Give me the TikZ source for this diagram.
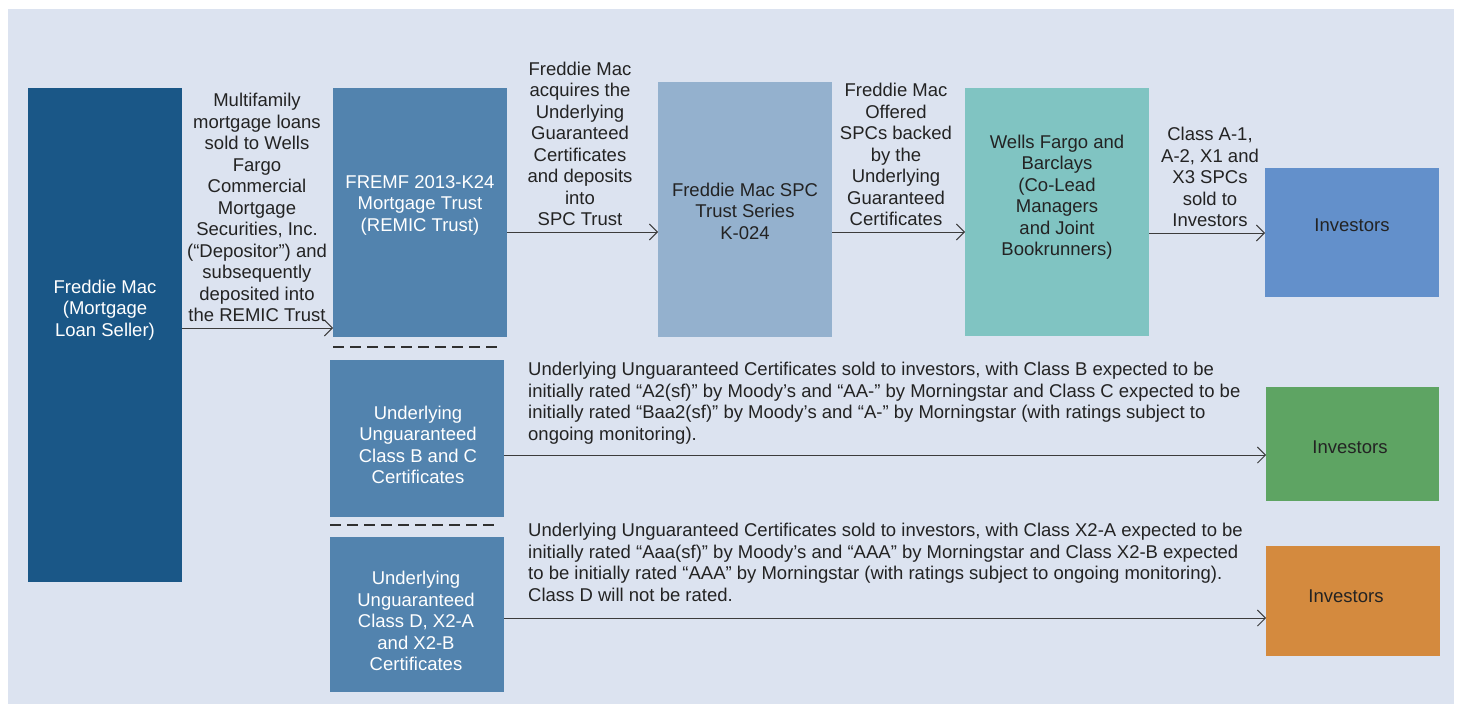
\documentclass[tikz,border=0pt]{standalone}
\usepackage{fontspec}
\setmainfont{Liberation Sans}
\usetikzlibrary{arrows.meta}
\definecolor{bgc}{RGB}{220,227,240}
\definecolor{darkblue}{RGB}{26,87,135}
\definecolor{midblue}{RGB}{82,131,174}
\definecolor{lightblue}{RGB}{148,177,206}
\definecolor{teal}{RGB}{128,196,194}
\definecolor{invblue}{RGB}{99,144,203}
\definecolor{invgreen}{RGB}{94,164,99}
\definecolor{invorange}{RGB}{212,138,62}
\definecolor{txt}{RGB}{35,35,35}
\definecolor{linec}{RGB}{60,60,60}
\tikzset{
  box/.style={inner sep=0pt, outer sep=0pt, draw=none},
  boxtext/.style={align=center, font=\fontsize{18.5}{21.5}\selectfont, inner sep=0pt},
  lbl/.style={align=center, font=\fontsize{18.5}{21.5}\selectfont, text=txt, inner sep=0pt},
  lbll/.style={align=left, font=\fontsize{18.5}{21.5}\selectfont, text=txt, inner sep=0pt},
  conn/.style={draw=linec, line width=0.9pt, -{Straight Barb[length=8pt,width=16pt,line width=0.9pt]}},
  sep/.style={draw=linec!80!black, line width=2.6pt, dash pattern=on 11pt off 6pt}
}
\begin{document}
\begin{tikzpicture}[x=1pt,y=-1pt]
\useasboundingbox (0,0) rectangle (1461,704);
\fill[white] (0,0) rectangle (1461,704);
\fill[bgc] (8,9) rectangle (1454,704);
% boxes
\node[box, fill=darkblue, minimum width=154pt, minimum height=494pt, anchor=north west] (seller) at (28,88) {};
\node[box, fill=midblue, minimum width=174pt, minimum height=249pt, anchor=north west] (remic) at (333,88) {};
\node[box, fill=lightblue, minimum width=174pt, minimum height=255pt, anchor=north west] (spc) at (658,82) {};
\node[box, fill=teal, minimum width=184pt, minimum height=248pt, anchor=north west] (wf) at (965,88) {};
\node[box, fill=invblue, minimum width=174pt, minimum height=129pt, anchor=north west] (inv1) at (1265,168) {};
\node[box, fill=midblue, minimum width=174pt, minimum height=157pt, anchor=north west] (bc) at (330,360) {};
\node[box, fill=midblue, minimum width=174pt, minimum height=155pt, anchor=north west] (dx) at (330,537) {};
\node[box, fill=invgreen, minimum width=173pt, minimum height=114pt, anchor=north west] (inv2) at (1266,387) {};
\node[box, fill=invorange, minimum width=174pt, minimum height=110pt, anchor=north west] (inv3) at (1266,546) {};
% box texts
\node[boxtext, text=white] (tseller) at (105,310) {Freddie Mac\\(Mortgage\\Loan Seller)};
\node[boxtext, text=white] (tremic) at (420,205) {FREMF 2013-K24\\Mortgage Trust\\(REMIC Trust)};
\node[boxtext, text=txt] (tspc) at (745,211) {Freddie Mac SPC\\Trust Series\\K-024};
\node[boxtext, text=txt] (twf) at (1057,197) {Wells Fargo and\\Barclays\\(Co-Lead\\Managers\\and Joint\\Bookrunners)};
\node[boxtext, text=txt] (tinv1) at (1352,225) {Investors};
\node[boxtext, text=white] (tbc) at (418,445) {Underlying\\Unguaranteed\\Class B and C\\Certificates};
\node[boxtext, text=white] (tdx) at (416,621) {Underlying\\Unguaranteed\\Class D, X2-A\\and X2-B\\Certificates};
\node[boxtext, text=txt] (tinv2) at (1350,447) {Investors};
\node[boxtext, text=txt] (tinv3) at (1346,596) {Investors};
% separators
\coordinate (s1a) at (333,347); \coordinate (s1b) at (502,347);
\coordinate (s2a) at (330,525); \coordinate (s2b) at (499,525);
\draw[sep] (s1a) -- (s1b);
\draw[sep] (s2a) -- (s2b);
% connectors
\draw[conn] (seller.east |- 0,328) -- (remic.west |- 0,328);
\draw[conn] (remic.east |- 0,232) -- (spc.west |- 0,232);
\draw[conn] (spc.east |- 0,232) -- (wf.west |- 0,232);
\draw[conn] (wf.east |- 0,233) -- (inv1.west |- 0,233);
\draw[conn] (bc.east |- 0,455) -- (inv2.west |- 0,455);
\draw[conn] (dx.east |- 0,618) -- (inv3.west |- 0,618);
% labels
\node[lbl, anchor=south] (l1) at (257,322) {Multifamily\\mortgage loans\\sold to Wells\\Fargo\\Commercial\\Mortgage\\Securities, Inc.\\(``Depositor'') and\\subsequently\\deposited into\\the REMIC Trust};
\node[lbl, anchor=south] (l2) at (580,226) {Freddie Mac\\acquires the\\Underlying\\Guaranteed\\Certificates\\and deposits\\into\\SPC Trust};
\node[lbl, anchor=south] (l3) at (896,226) {Freddie Mac\\Offered\\SPCs backed\\by the\\Underlying\\Guaranteed\\Certificates};
\node[lbl, anchor=south] (l4) at (1210,227) {Class A-1,\\A-2, X1 and\\X3 SPCs\\sold to\\Investors};
\node[lbll, anchor=north west] (l5) at (528,362) {Underlying Unguaranteed Certificates sold to investors, with Class B expected to be\\initially rated ``A2(sf)'' by Moody's and ``AA-'' by Morningstar and Class C expected to be\\initially rated ``Baa2(sf)'' by Moody's and ``A-'' by Morningstar (with ratings subject to\\ongoing monitoring).};
\node[lbll, anchor=north west] (l6) at (528,523) {Underlying Unguaranteed Certificates sold to investors, with Class X2-A expected to be\\initially rated ``Aaa(sf)'' by Moody's and ``AAA'' by Morningstar and Class X2-B expected\\to be initially rated ``AAA'' by Morningstar (with ratings subject to ongoing monitoring).\\Class D will not be rated.};
\end{tikzpicture}
\end{document}
